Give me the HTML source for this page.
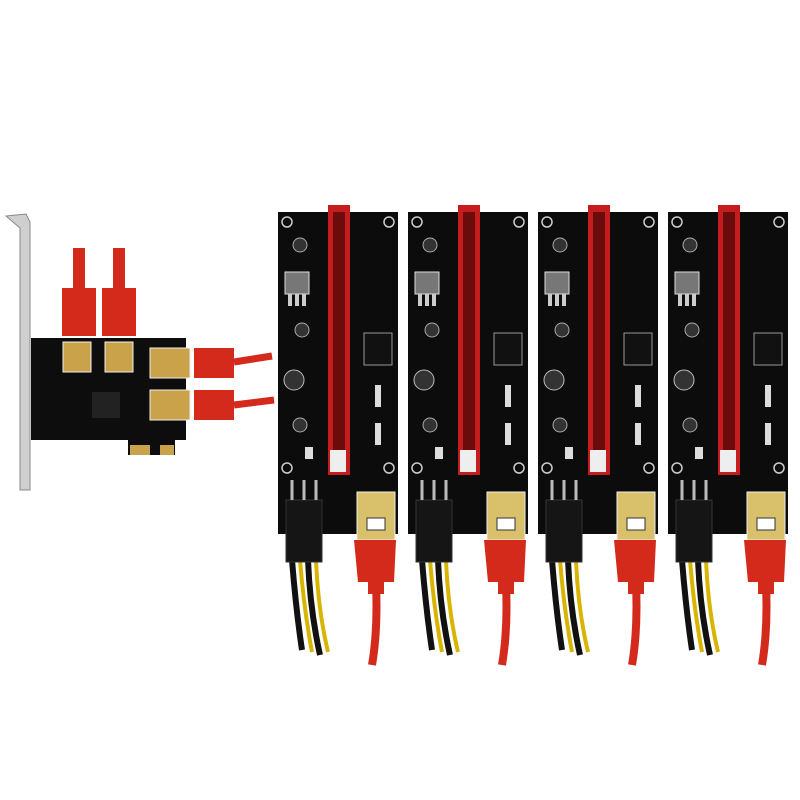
<!DOCTYPE html>
<html><head><style>body{margin:0;background:#fff}svg{display:block}</style></head><body>
<svg width="800" height="800" viewBox="0 0 800 800" xmlns="http://www.w3.org/2000/svg">
<defs>
<g id="riser">
  <!-- power cables -->
  <path d="M292 560 Q296 610 302 650" stroke="#111" stroke-width="6" fill="none"/>
  <path d="M300 560 Q304 610 312 652" stroke="#d9b400" stroke-width="4" fill="none"/>
  <path d="M308 560 Q310 610 320 655" stroke="#111" stroke-width="6" fill="none"/>
  <path d="M316 560 Q318 610 328 652" stroke="#d9b400" stroke-width="4" fill="none"/>
  <!-- red usb cable -->
  <path d="M376 585 Q378 630 372 665" stroke="#d42a1c" stroke-width="8" fill="none"/>
  <!-- board -->
  <rect x="278" y="212" width="120" height="322" fill="#0c0c0c"/>
  <circle cx="287" cy="222" r="5" fill="none" stroke="#ccc" stroke-width="1.5"/>
  <circle cx="389" cy="222" r="5" fill="none" stroke="#ccc" stroke-width="1.5"/>
  <circle cx="287" cy="468" r="5" fill="none" stroke="#ccc" stroke-width="1.5"/>
  <circle cx="389" cy="468" r="5" fill="none" stroke="#ccc" stroke-width="1.5"/>
  <!-- regulator -->
  <rect x="285" y="272" width="24" height="22" fill="#777" stroke="#ddd"/>
  <rect x="288" y="294" width="4" height="12" fill="#ccc"/><rect x="295" y="294" width="4" height="12" fill="#ccc"/><rect x="302" y="294" width="4" height="12" fill="#ccc"/>
  <circle cx="300" cy="245" r="7" fill="#333" stroke="#aaa"/>
  <circle cx="302" cy="330" r="7" fill="#333" stroke="#aaa"/>
  <circle cx="294" cy="380" r="10" fill="#333" stroke="#bbb"/>
  <circle cx="300" cy="425" r="7" fill="#333" stroke="#aaa"/>
  <rect x="305" y="447" width="8" height="12" fill="#ddd"/>
  <!-- 6pin header on board -->
  <rect x="364" y="333" width="28" height="32" fill="#111" stroke="#999"/>
  <rect x="375" y="385" width="6" height="22" fill="#ddd"/>
  <rect x="375" y="423" width="6" height="22" fill="#ddd"/>
  <!-- red slot -->
  <rect x="328" y="205" width="22" height="270" fill="#c51d1d"/>
  <rect x="333" y="212" width="12" height="256" fill="#6a0c0c"/>
  <rect x="330" y="450" width="16" height="22" fill="#eee"/>
  <!-- 6pin connector -->
  <rect x="286" y="500" width="36" height="62" fill="#151515" stroke="#333"/>
  <path d="M292 480v20M304 480v20M316 480v20" stroke="#bbb" stroke-width="3"/>
  <!-- usb -->
  <rect x="357" y="492" width="38" height="48" fill="#d9c06a" stroke="#eee"/>
  <rect x="367" y="518" width="18" height="12" fill="#fff" stroke="#333"/>
  <path d="M354 540h42l-2 42h-36z" fill="#d42a1c"/>
  <rect x="368" y="580" width="16" height="14" fill="#d42a1c"/>
</g>
</defs>
<!-- bracket -->
<path d="M6 216 L26 214 L30 222 L30 490 L20 490 L20 228 Z" fill="#cfcfcf" stroke="#888"/>
<!-- vertical red plugs -->
<rect x="73" y="248" width="12" height="40" fill="#d42a1c"/>
<rect x="113" y="248" width="12" height="40" fill="#d42a1c"/>
<rect x="62" y="288" width="34" height="48" fill="#d42a1c"/>
<rect x="102" y="288" width="34" height="48" fill="#d42a1c"/>
<!-- pcb -->
<path d="M31 338 H186 V440 H175 V455 H128 V440 H31 Z" fill="#0d0d0d"/>
<rect x="63" y="342" width="28" height="30" fill="#c9a24a" stroke="#eee"/>
<rect x="105" y="342" width="28" height="30" fill="#c9a24a" stroke="#eee"/>
<rect x="150" y="348" width="40" height="30" fill="#c9a24a" stroke="#eee"/>
<rect x="150" y="390" width="40" height="30" fill="#c9a24a" stroke="#eee"/>
<rect x="92" y="392" width="28" height="26" fill="#222"/>
<rect x="130" y="445" width="20" height="10" fill="#c9a24a"/><rect x="160" y="445" width="14" height="10" fill="#c9a24a"/>
<!-- horizontal red plugs -->
<rect x="194" y="348" width="40" height="30" fill="#d42a1c"/>
<rect x="194" y="390" width="40" height="30" fill="#d42a1c"/>
<path d="M234 362 L272 356" stroke="#d42a1c" stroke-width="7"/>
<path d="M234 405 L274 400" stroke="#d42a1c" stroke-width="7"/>
<use href="#riser"/>
<use href="#riser" x="130"/>
<use href="#riser" x="260"/>
<use href="#riser" x="390"/>
</svg>
</body></html>
